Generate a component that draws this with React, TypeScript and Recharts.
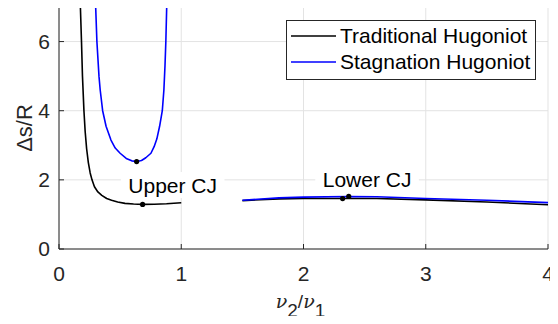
import React from 'react'
import {
  ComposedChart,
  Line,
  XAxis,
  YAxis,
  CartesianGrid,
  Legend,
  ReferenceDot,
} from 'recharts'

// Traditional Hugoniot, upper branch
const tradUpperX = [0.175, 0.184, 0.192, 0.204, 0.214, 0.226, 0.24, 0.255, 0.27, 0.29, 0.318, 0.35, 0.39, 0.43, 0.48, 0.54, 0.61, 0.684, 0.78, 0.88, 1.0]
const tradUpperY = [7.0, 6.0, 5.0, 4.0, 3.4, 2.9, 2.5, 2.2, 2.0, 1.8, 1.65, 1.55, 1.46, 1.41, 1.36, 1.32, 1.3, 1.29, 1.295, 1.31, 1.34]
// Traditional Hugoniot, lower branch
const tradLowerX = [1.5, 1.8, 2.0, 2.32, 2.6, 3.0, 3.5, 4.0]
const tradLowerY = [1.4, 1.45, 1.46, 1.46, 1.46, 1.42, 1.36, 1.28]

// Stagnation Hugoniot
const stagUpperX = [0.3, 0.31, 0.327, 0.337, 0.357, 0.385, 0.425, 0.46, 0.5, 0.55, 0.595, 0.635, 0.675, 0.71, 0.752, 0.778, 0.8, 0.823, 0.845, 0.858, 0.867, 0.874, 0.881]
const stagUpperY = [7.0, 6.0, 5.0, 4.6, 4.0, 3.55, 3.15, 2.92, 2.77, 2.62, 2.55, 2.53, 2.56, 2.64, 2.77, 2.96, 3.18, 3.55, 4.0, 4.6, 5.3, 6.0, 7.0]
const stagLowerX = [1.5, 1.8, 2.0, 2.37, 2.6, 3.0, 3.5, 4.0]
const stagLowerY = [1.41, 1.48, 1.5, 1.52, 1.51, 1.46, 1.41, 1.34]

// CJ points
const cjX = [0.684, 0.635, 2.32, 2.37]
const cjY = [1.29, 2.53, 1.46, 1.52]

const annotX = [0.93, 2.52]
const annotY = [1.85, 2.0]
const annotText = ['Upper CJ', 'Lower CJ']

const xTicks = [0, 1, 2, 3, 4]
const yTicks = [0, 2, 4, 6]

const seriesNames = ['Traditional Hugoniot', 'Stagnation Hugoniot']
const seriesColors = ['#000000', '#0000ff']

const FONT = "'Liberation Sans', Arial, sans-serif"
const AXIS = '#262626'

const toPts = (xs: number[], ys: number[]) => xs.map((x, i) => ({ x, y: ys[i] }))

const curves = [
  { key: 'tu', data: toPts(tradUpperX, tradUpperY), color: seriesColors[0] },
  { key: 'tl', data: toPts(tradLowerX, tradLowerY), color: seriesColors[0] },
  { key: 'su', data: toPts(stagUpperX, stagUpperY), color: seriesColors[1] },
  { key: 'sl', data: toPts(stagLowerX, stagLowerY), color: seriesColors[1] },
]

function LegendBox() {
  return (
    <div
      style={{
        border: `1px solid ${AXIS}`,
        background: '#fff',
        width: 248,
        height: 56,
        boxSizing: 'content-box',
        fontFamily: FONT,
        fontSize: 21,
        color: '#000',
        paddingTop: 2,
      }}
    >
      {seriesNames.map((name, i) => (
        <div key={name} style={{ display: 'flex', alignItems: 'center', height: 26 }}>
          <svg width={50} height={10} style={{ marginLeft: 3 }}>
            <line x1={1} y1={5} x2={46} y2={5} stroke={seriesColors[i]} strokeWidth={1.5} />
          </svg>
          <span style={{ whiteSpace: 'nowrap' }}>{name}</span>
        </div>
      ))}
    </div>
  )
}

function AnnotBox(props: any, text: string) {
  const { cx, cy } = props
  const w = text.length * 11.2 + 14
  return (
    <g>
      <rect x={cx - w / 2} y={cy - 13} width={w} height={26} fill="#fff" />
      <text x={cx} y={cy + 7.5} textAnchor="middle" fontFamily={FONT} fontSize={21} fill="#000">
        {text}
      </text>
    </g>
  )
}

function XLabel(props: any) {
  const vb = props.viewBox || {}
  const cx = vb.x + vb.width / 2
  return (
    <text x={cx - 3} y={308} textAnchor="middle" fill={AXIS} fontFamily={FONT} fontSize={20}>
      <tspan fontFamily="'DejaVu Serif', serif" fontStyle="italic" fontSize={19}>ν</tspan>
      <tspan dy={9} fontSize={19}>2</tspan>
      <tspan dy={-9} fontSize={19}>/</tspan>
      <tspan fontFamily="'DejaVu Serif', serif" fontStyle="italic" fontSize={19}>ν</tspan>
      <tspan dy={9} fontSize={19}>1</tspan>
    </text>
  )
}

function YLabel(props: any) {
  const vb = props.viewBox || {}
  const cy = vb.y + vb.height / 2
  return (
    <text
      x={32}
      y={cy}
      transform={`rotate(-90, 32, ${cy})`}
      textAnchor="middle"
      fill={AXIS}
      fontFamily={FONT}
      fontSize={22}
    >
      Δs/R
    </text>
  )
}

export default function App() {
  const tickStyle = { fill: AXIS, fontSize: 21, fontFamily: FONT }
  return (
    <div style={{ margin: -8, width: 558, height: 324, background: '#fff' }}>
      <ComposedChart width={558} height={324} margin={{ top: 7, right: 10, left: 0, bottom: 0 }}>
        <CartesianGrid stroke="#e3e3e3" strokeWidth={1} />
        <XAxis
          dataKey="x"
          type="number"
          domain={[0, 4]}
          ticks={xTicks}
          height={75}
          tickSize={-5}
          tickMargin={22}
          stroke={AXIS}
          tick={tickStyle}
          label={<XLabel />}
          allowDataOverflow
        />
        <XAxis
          xAxisId="top"
          dataKey="x"
          type="number"
          orientation="top"
          domain={[0, 4]}
          ticks={xTicks}
          height={0}
          tickSize={-5}
          tick={false}
          stroke={AXIS}
        />
        <YAxis
          dataKey="y"
          type="number"
          domain={[0, 7]}
          ticks={yTicks}
          width={59}
          tickSize={-5}
          tickMargin={14}
          stroke={AXIS}
          tick={tickStyle}
          allowDataOverflow
          label={<YLabel />}
        />
        <YAxis
          yAxisId="right"
          dataKey="y"
          type="number"
          orientation="right"
          domain={[0, 7]}
          ticks={yTicks}
          width={0}
          tickSize={-5}
          tick={false}
          stroke={AXIS}
        />
        {curves.map((c) => (
          <Line
            key={c.key}
            data={c.data}
            dataKey="y"
            type="linear"
            stroke={c.color}
            strokeWidth={1.6}
            strokeLinejoin="round"
            dot={false}
            activeDot={false}
            legendType="none"
            isAnimationActive={false}
          />
        ))}
        {cjX.map((x, i) => (
          <ReferenceDot key={`cj${i}`} x={x} y={cjY[i]} r={2.6} fill="#000" stroke="none" />
        ))}
        {annotX.map((x, i) => (
          <ReferenceDot
            key={`an${i}`}
            x={x}
            y={annotY[i]}
            r={0}
            shape={(p: any) => AnnotBox(p, annotText[i])}
          />
        ))}
        <Legend
          layout="vertical"
          align="center"
          verticalAlign="middle"
          wrapperStyle={{ top: 20, left: 286, width: 250, height: 58, right: 'auto', bottom: 'auto' }}
          content={() => <LegendBox />}
        />
      </ComposedChart>
    </div>
  )
}
